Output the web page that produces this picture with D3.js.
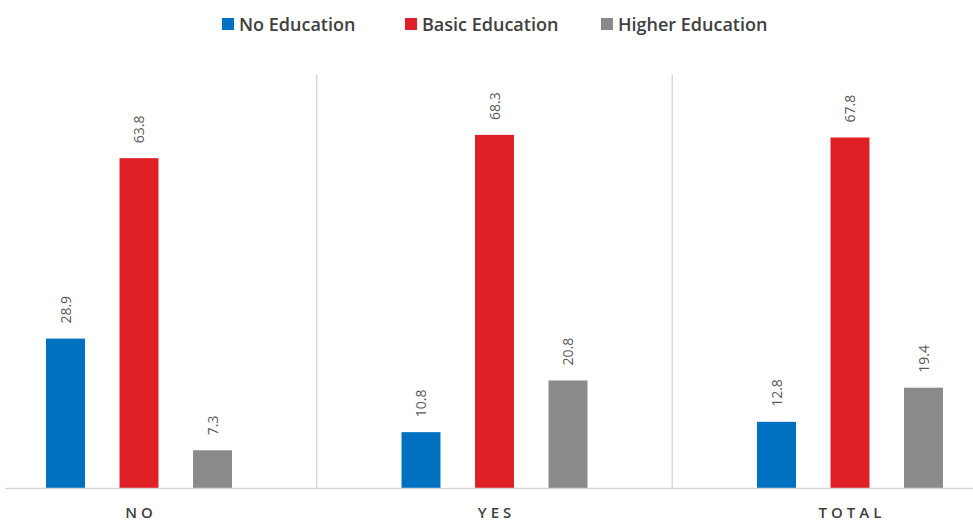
<!DOCTYPE html>
<html>
<head>
<meta charset="utf-8">
<script src="https://cdn.jsdelivr.net/npm/d3@7"></script>
<style>
  body { margin: 0; background: #fff; }
  text { font-family: "Open Sans", sans-serif; }
</style>
</head>
<body>
<svg width="973" height="523"></svg>
<script>
var categories = ["NO", "YES", "TOTAL"];
var series = ["No Education", "Basic Education", "Higher Education"];
var noEducation = [28.9, 10.8, 12.8];
var basicEducation = [63.8, 68.3, 67.8];
var higherEducation = [7.3, 20.8, 19.4];
var colors = ["#0070c0", "#e02027", "#898a89"];

var values = [noEducation, basicEducation, higherEducation];

var svg = d3.select("svg"),
    baseY = 488;

var x0 = d3.scaleBand()
    .domain(categories)
    .range([-38.75, 1027.75])
    .padding(0);

var x1 = d3.scaleBand()
    .domain(series)
    .range([-110.25, 110.25])
    .paddingInner(0.47)
    .paddingOuter(0.235);

var y = d3.scaleLinear()
    .domain([0, 80])
    .range([baseY, baseY - 80 * 5.17]);

// separators between groups
svg.selectAll("line.sep")
  .data(categories.slice(0, -1))
  .enter().append("line")
    .attr("class", "sep")
    .attr("x1", function(d) { return x0(d) + x0.step(); })
    .attr("x2", function(d) { return x0(d) + x0.step(); })
    .attr("y1", y(80))
    .attr("y2", baseY)
    .style("stroke", "#d9d9d9")
    .style("stroke-width", 1.5);

var groups = svg.selectAll("g.cat")
  .data(categories)
  .enter().append("g")
    .attr("class", "cat")
    .attr("transform", function(d) { return "translate(" + (x0(d) + x0.bandwidth() / 2) + ",0)"; });

groups.selectAll("rect")
  .data(function(d, i) { return series.map(function(s, j) { return {s: s, j: j, v: values[j][i]}; }); })
  .enter().append("rect")
    .attr("x", function(d) { return x1(d.s); })
    .attr("width", x1.bandwidth())
    .attr("y", function(d) { return y(d.v); })
    .attr("height", function(d) { return baseY - y(d.v); })
    .style("fill", function(d) { return colors[d.j]; });

groups.selectAll("text.val")
  .data(function(d, i) { return series.map(function(s, j) { return {s: s, j: j, v: values[j][i]}; }); })
  .enter().append("text")
    .attr("class", "val")
    .attr("transform", function(d) {
      return "translate(" + (x1(d.s) + x1.bandwidth() / 2 + 5) + "," + (y(d.v) - 15) + ") rotate(-90)";
    })
    .style("font-size", "14px")
    .style("fill", "#595959")
    .text(function(d) { return d.v.toFixed(1); });

// baseline axis
svg.append("line")
    .attr("x1", 5)
    .attr("x2", 973)
    .attr("y1", baseY + 0.5)
    .attr("y2", baseY + 0.5)
    .style("stroke", "#d9d9d9")
    .style("stroke-width", 1.5);

groups.append("text")
    .attr("x", 0)
    .attr("dx", 2)
    .attr("y", 518)
    .attr("text-anchor", "middle")
    .style("font-size", "15px")
    .style("font-weight", 600)
    .style("letter-spacing", "4px")
    .style("fill", "#404040")
    .text(function(d) { return d; });

// legend
var legendX = [222, 405, 601];
var legend = svg.selectAll("g.legend")
  .data(series)
  .enter().append("g")
    .attr("class", "legend")
    .attr("transform", function(d, i) { return "translate(" + legendX[i] + ",0)"; });

legend.append("rect")
    .attr("y", 18)
    .attr("width", 12)
    .attr("height", 12)
    .style("fill", function(d, i) { return colors[i]; });

legend.append("text")
    .attr("x", 17)
    .attr("y", 31)
    .style("font-size", "18px")
    .style("font-weight", 600)
    .style("fill", "#404040")
    .text(function(d) { return d; });
</script>
</body>
</html>
